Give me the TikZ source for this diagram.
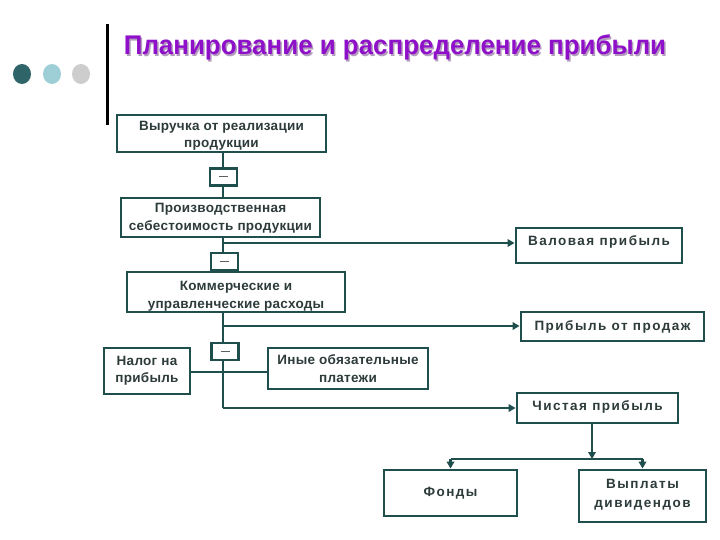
\documentclass[tikz,border=0pt]{standalone}
\usepackage{fontspec}
\setmainfont{Liberation Sans}
\newfontfamily\boxfont[LetterSpace=2]{Liberation Sans}
\newfontfamily\widefont[LetterSpace=11]{Liberation Sans}
\usetikzlibrary{arrows.meta}
\definecolor{linec}{HTML}{1F4F4D}
\definecolor{txtc}{HTML}{2E3B3B}
\definecolor{titlec}{HTML}{8E10C8}
\definecolor{dotA}{HTML}{2F6468}
\definecolor{dotB}{HTML}{9FCFD6}
\definecolor{dotC}{HTML}{CDCDCD}
\tikzset{
  bx/.style={draw=linec, line width=2.8pt, fill=white, align=center, inner sep=0pt,
    text=txtc, font=\boxfont\bfseries\fontsize{13.5}{17.5}\selectfont},
  wbx/.style={bx, font=\widefont\bfseries\fontsize{13.5}{18.5}\selectfont},
  mb/.style={draw=linec, line width=2.6pt, fill=white, inner sep=0pt,
    minimum width=27pt, minimum height=17pt},
  ln/.style={draw=linec, line width=2.8pt},
  ar/.style={ln, -{Triangle[length=7pt,width=7.5pt]}},
  ttl/.style={font=\bfseries\fontsize{27}{30}\selectfont, xscale=0.96},
}
\newcommand\mdash{\textcolor{txtc!80}{\rule[1pt]{9pt}{0.9pt}}}
\begin{document}
\begin{tikzpicture}[x=1pt,y=-1pt]
\useasboundingbox (0,0) rectangle (720,540);
% decorations
\fill[dotA] (22,74) ellipse (9 and 10);
\fill[dotB] (52,74) ellipse (9 and 10);
\fill[dotC] (81,74) ellipse (9 and 10);
\draw[black, line width=3pt] (107,24) -- (107,125);
\node[ttl, text=titlec!45!black, opacity=0.4] at (396.5,49.3) {Планирование и распределение прибыли};
\node[ttl, text=titlec] (title) at (395,47.8) {Планирование и распределение прибыли};
% trunk
\draw[ln] (223,152) -- (223,408);
% boxes
\node[bx, minimum width=209pt, text height=33pt, text depth=4pt] (b1) at (221.5,133.5) {Выручка от реализации\\продукции};
\node[mb] (m1) at (223.5,177) {\mdash};
\node[bx, minimum width=199pt, text height=32pt, text depth=7pt] (b2) at (220.5,217.5) {Производственная\\себестоимость продукции};
\node[wbx, minimum width=166pt, text height=17.5pt, text depth=17.5pt] (vp) at (599,245.5) {Валовая прибыль};
\node[mb] (m2) at (224.5,261.5) {\mdash};
\node[bx, minimum width=218pt, text height=36pt, text depth=4pt] (b3) at (236,292) {Коммерческие и\\управленческие расходы};
\node[wbx, minimum width=183pt, minimum height=29pt] (pp) at (612.5,326.5) {Прибыль от продаж};
\node[mb] (m3) at (225,351.5) {\mdash};
\node[bx, minimum width=86pt, minimum height=46pt] (nal) at (147,371) {Налог на\\прибыль};
\node[bx, minimum width=160pt, minimum height=41pt] (ino) at (348,368.5) {Иные обязательные\\платежи};
\node[wbx, minimum width=161pt, text height=17pt, text depth=13pt] (chp) at (597.5,408) {Чистая прибыль};
\node[wbx, minimum width=133pt, minimum height=46pt] (fon) at (450.5,493) {Фонды};
\node[wbx, minimum width=127pt, text height=37pt, text depth=15pt] (div) at (642.5,496) {Выплаты\\дивидендов};
% connectors
\coordinate (j1) at (223,243);
\coordinate (j2) at (223,326);
\coordinate (j3) at (223,408);
\draw[ar] (j1) -- (vp.west |- j1);
\draw[ar] (j2) -- (pp.west |- j2);
\draw[ar] (j3) -- (chp.west |- j3);
\draw[ln] (nal.east |- 0,372) -- (ino.west |- 0,372);
\coordinate (sp) at (592,459);
\draw[ar] (chp.south -| sp) -- (sp);
\draw[ln] (fon.north |- sp) -- (div.north |- sp);
\draw[ar] (fon.north |- sp) -- (fon.north);
\draw[ar] (div.north |- sp) -- (div.north);
\end{tikzpicture}
\end{document}
